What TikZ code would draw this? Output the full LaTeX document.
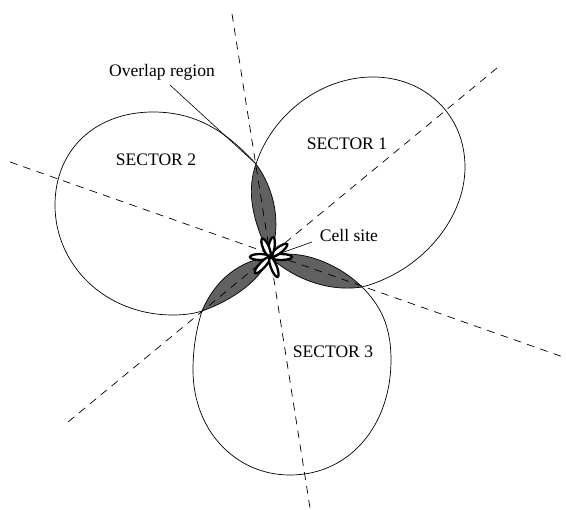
\documentclass[tikz,border=0pt]{standalone}
\usepackage{fontspec}
\setmainfont{Liberation Serif}
\usepackage{tikz}
\tikzstyle{lobe} = [draw=black, line width=0.4pt]
\tikzstyle{overlap} = [fill=black!62]
\tikzstyle{axis} = [draw=black, line width=0.4pt, dash pattern=on 4.4pt off 3.6pt]
\tikzstyle{leader} = [draw=black, line width=0.35pt]
\tikzstyle{petal} = [draw=black, fill=white, line width=1.3pt]
\tikzstyle{label} = [font=\fontsize{10}{12}\selectfont, inner sep=1pt]
\newcommand{\lobea}{(270,257) .. controls (255,225) and (245,195) .. (256,164) .. controls (272,115) and (320,77) .. (373,77) .. controls (425,77) and (465,115) .. (465,167) .. controls (465,220) and (420,272) .. (362,287) .. controls (330,292) and (295,280) .. (270,257)}
\newcommand{\lobeb}{(270,257) .. controls (282,225) and (275,190) .. (256,164) .. controls (225,130) and (195,112) .. (153,112) .. controls (95,112) and (55,150) .. (55,205) .. controls (55,265) and (105,315) .. (173,315) .. controls (183,315) and (193,314) .. (202,311) .. controls (225,303) and (258,285) .. (270,257)}
\newcommand{\lobec}{(270,257) .. controls (240,260) and (215,280) .. (202,311) .. controls (196,330) and (193,350) .. (193,370) .. controls (193,430) and (235,475) .. (290,475) .. controls (350,475) and (391,425) .. (391,360) .. controls (391,325) and (380,305) .. (362,287) .. controls (340,265) and (300,247) .. (270,257)}

\begin{document}
\begin{tikzpicture}[x=0.02cm, y=-0.02cm]

	\useasboundingbox (0,0) rectangle (566,510);

	\coordinate (site) at (270,257);
	\coordinate (tipa) at (256,164);
	\coordinate (axisat) at (232,14);
	\coordinate (axisab) at (310,508);
	\coordinate (axisbt) at (497,68);
	\coordinate (axisbb) at (68,422);
	\coordinate (axisct) at (10,162);
	\coordinate (axiscb) at (566,358);
	\coordinate (overend) at (170,85);
	\coordinate (cellend) at (312,242);

	% overlap regions
	\begin{scope}
		\clip \lobea;
		\fill [overlap] \lobeb;
	\end{scope}
	\begin{scope}
		\clip \lobeb;
		\fill [overlap] \lobec;
	\end{scope}
	\begin{scope}
		\clip \lobec;
		\fill [overlap] \lobea;
	\end{scope}

	% sectors
	\draw [lobe] \lobea;
	\draw [lobe] \lobeb;
	\draw [lobe] \lobec;

	% sector axes
	\draw [axis] (axisat) -- (axisab);
	\draw [axis] (axisbt) -- (axisbb);
	\draw [axis] (axisct) -- (axiscb);

	% antenna pattern at the site
	\foreach \ang/\len in {0/11, 37/10.7, 81/10, 113/10, 180/10, 227/11, 291/10.7}
		\draw [petal, rotate around={\ang:(site)}] ([xshift=\len*0.02cm]site) ellipse [x radius=\len*0.02cm, y radius=0.06cm];
	\fill (site) circle [radius=0.05cm];

	% labels
	\node (sectora) [label] at (347,144) {SECTOR 1};
	\node (sectorb) [label] at (156,160) {SECTOR 2};
	\node (sectorc) [label] at (333,352) {SECTOR 3};
	\node (over) [label] at (162,72) {Overlap region};
	\node (cell) [label] at (349,235) {Cell site};

	\draw [leader] (overend) -- (tipa);
	\draw [leader] (cellend) -- (site);

\end{tikzpicture}
\end{document}
